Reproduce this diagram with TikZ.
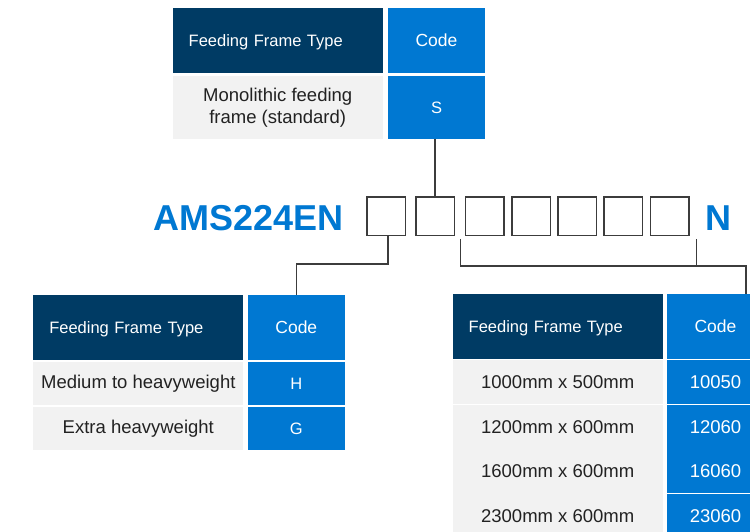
\documentclass[tikz,border=0pt]{standalone}
\usepackage{fontspec}
\setmainfont{Liberation Sans}
\definecolor{navy}{HTML}{003B64}
\definecolor{codeblue}{HTML}{0078D2}
\definecolor{cellgray}{HTML}{F2F2F2}
\definecolor{ink}{HTML}{222222}
\definecolor{wire}{HTML}{3C3C3C}

\begin{document}
\begin{tikzpicture}[x=1pt,y=-1pt,
  every node/.style={inner sep=0pt},
  hdr/.style={fill=navy,text=white,minimum height=65pt,text width=178pt,inner xsep=16pt,align=left,text height=11.8pt,text depth=0pt,font=\fontsize{16.5}{20}\selectfont},
  codehdr/.style={fill=codeblue,text=white,minimum width=97pt,minimum height=65pt,font=\fontsize{17.5}{20}\selectfont},
  typecell/.style={fill=cellgray,text=ink,minimum width=210pt,align=center,font=\fontsize{18.5}{22}\selectfont},
  codecell/.style={fill=codeblue,text=white,minimum width=97pt,font=\fontsize{16.5}{20}\selectfont},
  digitcell/.style={codecell,font=\fontsize{18.5}{22}\selectfont},
  slot/.style={draw=wire,line width=1.5pt,minimum size=38.5pt},
  link/.style={draw=wire,line width=1.4pt}
]
\useasboundingbox (0,0) rectangle (750,532);
\clip (0,0) rectangle (750,532);

% top table
\node[hdr] (thdr) at (277.7,40.5) {Feeding Frame Type};
\node[codehdr] (tcode) at (436.5,40.5) {Code};
\node[typecell,minimum height=63pt] (tmono) at (277.7,107.5) {Monolithic feeding\\frame (standard)};
\node[codecell,minimum height=63pt] (ts) at (436.5,107.5) {S};

% model code
\node[font=\fontsize{36}{40}\selectfont\bfseries,text=codeblue,anchor=base west] (model) at (153,230) {AMS224EN};
\foreach \x [count=\i] in {386,435,484.5,531.2,577.3,623.3,669.5}
  \node[slot] (b\i) at (\x,216) {};
\node[font=\fontsize{36}{40}\selectfont\bfseries,text=codeblue,anchor=base west] (suffix) at (705,230) {N};

% left table
\node[hdr] (lhdr) at (138.3,327.5) {Feeding Frame Type};
\node[codehdr] (lcode) at (296.3,327.5) {Code};
\node[typecell,minimum height=43pt] (lmed) at (138.3,383.5) {Medium to heavyweight};
\node[codecell,minimum height=43pt] (lh) at (296.3,383.5) {H};
\node[typecell,minimum height=43pt] (lext) at (138.3,428.5) {Extra heavyweight};
\node[codecell,minimum height=43pt] (lg) at (296.3,428.5) {G};

% right table
\node[hdr] (rhdr) at (557.7,326.3) {Feeding Frame Type};
\node[codehdr] (rcode) at (715.5,326.3) {Code};
\node[typecell,minimum height=44pt] (r1) at (557.7,382) {1000mm x 500mm};
\node[typecell,minimum height=44.5pt] (r2) at (557.7,427.6) {1200mm x 600mm};
\node[typecell,minimum height=44.5pt] (r3) at (557.7,471.4) {1600mm x 600mm};
\node[typecell,minimum height=45pt] (r4) at (557.7,515.7) {2300mm x 600mm};
\node[digitcell,minimum height=44pt] (c1) at (715.5,382) {10050};
\node[digitcell,minimum height=44.5pt] (c2) at (715.5,427.6) {12060};
\node[digitcell,minimum height=44pt] (c3) at (715.5,471.4) {16060};
\node[digitcell,minimum height=44pt] (c4) at (715.5,516.4) {23060};

% connectors
\draw[link] (b2.north |- ts.south) -- (b2.north);
\draw[link] ([xshift=2pt]b1.south) -- ++(0,28) -| (lcode.north);
\coordinate (bl) at (460.7,239);
\coordinate (br) at (696.7,239);
\draw[link] (bl) -- ++(0,27) coordinate (bj) -| ([xshift=30.5pt]rcode.north);
\draw[link] (br) -- (br |- bj);
\end{tikzpicture}
\end{document}
